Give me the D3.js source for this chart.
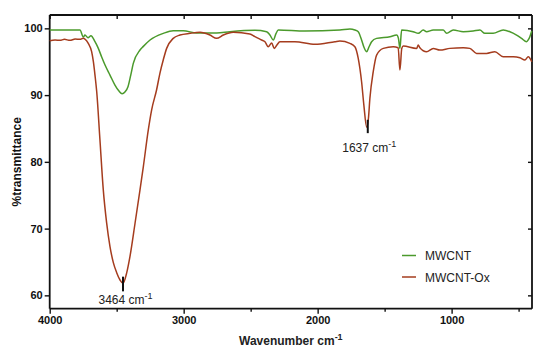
<!DOCTYPE html>
<html>
<head>
<meta charset="utf-8">
<script src="https://cdn.jsdelivr.net/npm/d3@7"></script>
<style>
  body { margin: 0; background: #fff; }
  svg { font-family: "Liberation Sans", Arial, sans-serif; }
  .tick text { font-weight: bold; font-size: 11px; fill: #111; }
  .domain, .tick line { stroke: #111; }
</style>
</head>
<body>
<svg id="chart" width="550" height="360"></svg>
<script>
// wavenumber (cm-1), % transmittance
var mwcntWn = [4000,3774,3749,3737,3714,3692,3662,3637,3612,3587,3550,3513,3483,3460,3437,3415,3395,3376,3326,3301,3251,3152,3078,3003,2903,2754,2655,2468,2381,2356,2331,2311,2294,2095,1834,1759,1722,1697,1672,1655,1634,1617,1597,1560,1460,1410,1397,1386,1373,1287,1249,1212,1187,1137,1063,1037,988,913,839,789,752,690,615,565,515,478,440,427,416,402]
var mwcntT = [99.75,99.75,98.7,99.0,98.6,98.9,98.0,97.0,95.7,94.5,93.0,91.5,90.6,90.2,90.5,91.3,93.0,94.75,96.75,97.3,98.25,99.25,99.65,99.65,99.3,99.3,99.5,99.7,99.5,99.0,98.25,99.2,99.75,99.6,99.75,99.9,99.75,99.5,98.25,97.2,96.5,97.2,98.0,98.5,98.75,99.0,98.5,97.0,99.75,99.5,99.25,99.75,99.5,99.75,99.75,99.25,99.75,99.5,99.6,99.75,99.25,99.25,99.75,99.5,99.0,98.5,98.0,98.3,98.75,99.6]

var oxWn = [4000,3960,3923,3890,3849,3810,3774,3750,3737,3712,3687,3674,3662,3649,3625,3600,3575,3550,3525,3500,3475,3453,3425,3401,3363,3326,3301,3264,3239,3202,3177,3152,3127,3078,3028,2953,2878,2804,2754,2704,2630,2506,2468,2418,2393,2369,2343,2324,2304,2282,2170,2020,1871,1834,1759,1722,1697,1672,1655,1634,1621,1610,1585,1560,1510,1436,1399,1386,1372,1361,1261,1249,1237,1187,1137,1088,1013,913,864,814,739,677,615,540,490,453,428,402]
var oxT = [98.15,98.25,98.2,98.35,98.2,98.4,98.35,98.5,98.4,97.75,96.5,95.0,93.0,90.5,83.3,75.8,70.85,67.3,64.9,63.4,62.3,61.8,63.4,65.8,70.8,75.8,79.3,84.8,87.8,90.8,93.3,95.3,97.0,98.5,99.0,99.25,99.4,99.0,98.5,99.0,99.4,99.15,98.75,98.25,98.0,97.25,97.8,97.0,97.5,98.0,98.0,97.6,98.0,98.1,97.75,97.25,95.5,92.0,88.5,85.2,86.5,89.5,93.5,96.0,97.0,97.25,97.1,93.75,97.0,97.35,97.0,97.5,97.1,96.5,97.0,96.75,97.0,97.1,97.0,96.25,96.25,96.5,95.75,95.75,95.6,95.25,95.75,95.0]

var seriesNames = ["MWCNT", "MWCNT-Ox"]
var seriesColors = ["#4b9a2c", "#a53c1e"]
var xTicks = [4000, 3000, 2000, 1000]
var xMinor = [3500, 2500, 1500, 500]
var yTicks = [60, 70, 80, 90, 100]
// peak marks: wavenumber, top and bottom of the marker line (% T)
var peakWn = [3464, 1637]
var peakTop = [62.8, 86.3]
var peakBot = [60.6, 84.3]

var svg = d3.select("#chart")
var L = 49.7, R = 532, T = 15, B = 308.7

var x = d3.scaleLinear().domain([4000, 400]).range([L, R])
var y = d3.scaleLinear().domain([58, 102]).range([B, T])

// frame: top and right with inward ticks
var topAx = svg.append("g").attr("transform", "translate(0," + T + ")")
  .call(d3.axisTop(x).tickValues(xTicks.concat(xMinor)).tickSize(-4).tickFormat(""))
var rightAx = svg.append("g").attr("transform", "translate(" + R + ",0)")
  .call(d3.axisRight(y).tickValues(yTicks).tickSize(-4).tickFormat(""))
var botAx = svg.append("g").attr("transform", "translate(0," + B + ")")
  .call(d3.axisBottom(x).tickValues(xTicks).tickSize(5).tickPadding(3).tickFormat(d3.format("d")))
svg.append("g").attr("transform", "translate(0," + B + ")")
  .call(d3.axisBottom(x).tickValues(xMinor).tickSize(3).tickFormat(""))
  .select(".domain").remove()
var leftAx = svg.append("g").attr("transform", "translate(" + L + ",0)")
  .call(d3.axisLeft(y).tickValues(yTicks).tickSize(5).tickPadding(2))
svg.selectAll(".domain").attr("stroke-width", 1.8)
svg.selectAll(".tick line").attr("stroke-width", 1.4)
// plain frame lines, no outer stubs
topAx.select(".domain").attr("d", "M" + L + ",0H" + R)
rightAx.select(".domain").attr("d", "M0," + T + "V" + B)
botAx.select(".domain").attr("d", "M" + L + ",0H" + R)
leftAx.select(".domain").attr("d", "M0," + T + "V" + B)

var line = d3.line()
  .x(function(d){ return x(d[0]) })
  .y(function(d){ return y(d[1]) })
  .curve(d3.curveMonotoneX)

var all = [d3.zip(mwcntWn, mwcntT), d3.zip(oxWn, oxT)]
svg.append("g").selectAll("path").data(all).enter().append("path")
  .attr("d", line)
  .attr("fill", "none")
  .attr("stroke", function(d,i){ return seriesColors[i] })
  .attr("stroke-width", 1.5)
  .attr("stroke-linejoin", "round")

// peak markers
svg.selectAll(".peak").data(peakWn).enter().append("line")
  .attr("class", "peak")
  .attr("x1", function(d){ return x(d) + 1.5 }).attr("x2", function(d){ return x(d) + 1.5 })
  .attr("y1", function(d,i){ return y(peakTop[i]) })
  .attr("y2", function(d,i){ return y(peakBot[i]) })
  .attr("stroke", "#111").attr("stroke-width", 2)

function cmLabel(g, txt, px, py, anchor, bold, size) {
  var t = g.append("text").attr("x", px).attr("y", py)
    .attr("text-anchor", anchor)
    .style("font-size", size + "px")
    .style("font-weight", bold ? "bold" : "normal")
    .attr("fill", "#222")
  t.append("tspan").text(txt + " cm")
  t.append("tspan").text("-1").attr("dy", -5).style("font-size", (size - 3) + "px")
  return t
}
cmLabel(svg, "3464", x(3464) + 4, 304, "middle", false, 12)
cmLabel(svg, "1637", x(1637) + 3, 152, "middle", false, 12)

// axis titles
cmLabel(svg, "Wavenumber", (L + R) / 2, 345, "middle", true, 12)
svg.append("text")
  .attr("transform", "translate(21," + ((T + B) / 2) + ") rotate(-90)")
  .attr("text-anchor", "middle")
  .style("font-size", "12px").style("font-weight", "bold")
  .attr("fill", "#111")
  .text("%transmittance")

// legend
var lg = svg.append("g").selectAll("g").data(seriesNames).enter().append("g")
  .attr("transform", function(d,i){ return "translate(402," + (255.5 + i * 21.5) + ")" })
lg.append("line").attr("x1", 0).attr("x2", 14)
  .attr("stroke", function(d,i){ return seriesColors[i] }).attr("stroke-width", 1.5)
lg.append("text").attr("x", 23).attr("y", 4.5)
  .style("font-size", "12px").attr("fill", "#222")
  .text(function(d){ return d })
</script>
</body>
</html>
